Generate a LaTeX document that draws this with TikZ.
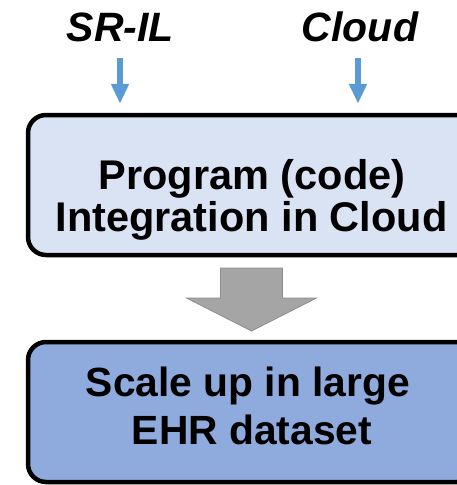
\documentclass[tikz,border=0pt]{standalone}
\usepackage{fontspec}
\setmainfont{Liberation Sans}
\usetikzlibrary{arrows.meta,calc}
\definecolor{boxlight}{HTML}{DAE3F3}
\definecolor{boxdark}{HTML}{8FAADC}
\definecolor{arrowblue}{HTML}{5B9BD5}
\definecolor{arrowgray}{HTML}{A5A5A5}
\definecolor{arrowgrayline}{HTML}{8C8C8C}
\tikzset{
  flowbox/.style={draw=black, line width=4.5pt, rounded corners=18pt,
    minimum width=447pt, minimum height=140pt, inner sep=0pt},
  boxtext/.style={font=\fontsize{41.5}{44}\selectfont\bfseries, align=center, inner sep=0pt},
  boxtextb/.style={font=\fontsize{40.8}{44}\selectfont\bfseries, align=center, inner sep=0pt},
  toplabel/.style={font=\fontsize{41}{44}\selectfont\bfseries\itshape, inner sep=0pt},
  bluearrow/.style={draw=arrowblue, line width=6pt,
    -{Triangle[width=17pt,length=20pt]}},
  grayarrow/.style={fill=arrowgray, draw=arrowgrayline, line width=0.8pt},
}
\begin{document}
\begin{tikzpicture}[x=1pt,y=-1pt]
\useasboundingbox (0,0) rectangle (457,485);
\clip (0,0) rectangle (457,485);
\fill[white] (0,0) rectangle (457,485);
% boxes
\node[flowbox, fill=boxlight] (box1) at (251.5,185) {};
\node[flowbox, fill=boxdark] (box2) at (251.5,412) {};
% box texts
\node[boxtext, anchor=base] (t1) at (252,189) {Program (code)};
\node[boxtext, anchor=base] (t2) at (251.5,231) {Integration in Cloud};
\node[boxtextb, anchor=base] (t3) at (248,396) {Scale up in large};
\node[boxtextb, anchor=base] (t4) at (252,444) {EHR dataset};
% top labels
\node[toplabel, anchor=base] (sril) at (120.5,41) {SR-IL};
\node[toplabel, anchor=base] (cloud) at (360,41) {Cloud};
% blue arrows
\coordinate (a1s) at (120,58);
\coordinate (a2s) at (358,58);
\draw[bluearrow] (a1s) -- ($(a1s |- box1.north)+(0,-9)$);
\draw[bluearrow] (a2s) -- ($(a2s |- box1.north)+(0,-9)$);
% gray block arrow
\coordinate (g) at (251.5,268);
\draw[grayarrow] ($(g)+(-31,0)$) -- ($(g)+(31,0)$) -- ($(g)+(31,30)$)
  -- ($(g)+(65,30)$) -- ($(g)+(0,63)$) -- ($(g)+(-65,30)$)
  -- ($(g)+(-31,30)$) -- cycle;
\end{tikzpicture}
\end{document}
